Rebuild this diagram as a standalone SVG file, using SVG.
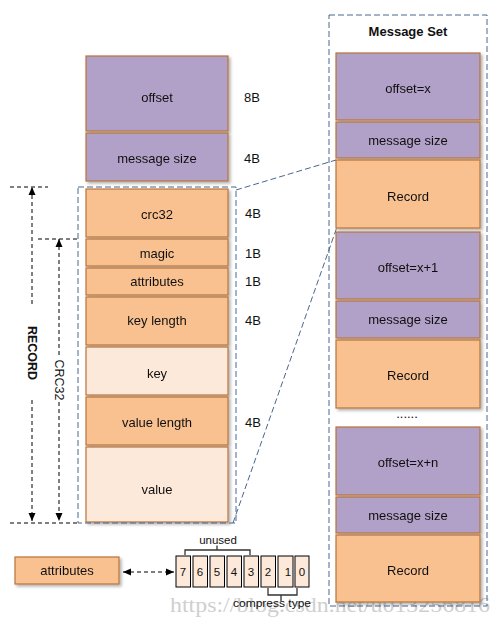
<svg xmlns="http://www.w3.org/2000/svg" width="502" height="626" viewBox="0 0 502 626">
<style>
text{font-family:"Liberation Sans","DejaVu Sans",sans-serif;font-size:13px;fill:#111;}
.c{text-anchor:middle;dominant-baseline:central;}
.p{fill:#B1A0C7;stroke:#B8733A;stroke-width:1.2;}
.o{fill:#F9C090;stroke:#B8733A;stroke-width:1.2;}
.l{fill:#FDE9DA;stroke:#B8733A;stroke-width:1.2;}
.bit{fill:#FDE9DA;stroke:#000;stroke-width:1;}
.bd{fill:none;stroke:#48668F;stroke-width:1;stroke-dasharray:6,3;}
.ad{fill:none;stroke:#000;stroke-width:1;stroke-dasharray:4,3;}
.br{fill:none;stroke:#333;stroke-width:1.3;}
.s{font-size:11.5px;}
</style>
<defs>
<filter id="sh" x="-10%" y="-10%" width="130%" height="130%">
<feDropShadow dx="2" dy="2" stdDeviation="1.5" flood-color="#000" flood-opacity="0.3"/>
</filter>
<marker id="ah" markerWidth="8" markerHeight="8" refX="8" refY="4" orient="auto-start-reverse" markerUnits="userSpaceOnUse">
<path d="M0,0.5 L8,4 L0,7.5 z" fill="#000"/>
</marker>
</defs>

<text x="170" y="612" textLength="320" lengthAdjust="spacingAndGlyphs" style="font-family:'Liberation Serif',serif;font-size:21px;fill:#cfcfcf;">https://blog.csdn.net/u013256816</text>

<g id="left-offset" filter="url(#sh)"><rect class="p" x="86" y="56" width="142" height="75"/><text class="c" x="157" y="97">offset</text></g>
<g id="left-msgsize" filter="url(#sh)"><rect class="p" x="86" y="133" width="142" height="48"/><text class="c" x="157" y="158">message size</text></g>
<g id="crc32" filter="url(#sh)"><rect class="o" x="86" y="189" width="142" height="48"/><text class="c" x="157" y="214">crc32</text></g>
<g id="magic" filter="url(#sh)"><rect class="o" x="86" y="239" width="142" height="27"/><text class="c" x="157" y="253">magic</text></g>
<g id="attributes" filter="url(#sh)"><rect class="o" x="86" y="268" width="142" height="27"/><text class="c" x="157" y="281">attributes</text></g>
<g id="keylength" filter="url(#sh)"><rect class="o" x="86" y="297" width="142" height="48"/><text class="c" x="157" y="320">key length</text></g>
<g id="key" filter="url(#sh)"><rect class="l" x="86" y="347" width="142" height="48"/><text class="c" x="157" y="373">key</text></g>
<g id="valuelength" filter="url(#sh)"><rect class="o" x="86" y="397" width="142" height="48"/><text class="c" x="157" y="422">value length</text></g>
<g id="value" filter="url(#sh)"><rect class="l" x="86" y="447" width="142" height="75"/><text class="c" x="157" y="489">value</text></g>

<g id="sizes">
<text class="c" x="252" y="97">8B</text>
<text class="c" x="252" y="158">4B</text>
<text class="c" x="253" y="213">4B</text>
<text class="c" x="253" y="253">1B</text>
<text class="c" x="253" y="281">1B</text>
<text class="c" x="253" y="320">4B</text>
<text class="c" x="253" y="422">4B</text>
</g>

<g id="record-group"><rect class="bd" x="78" y="187" width="158" height="336"/></g>

<g id="message-set">
<rect class="bd" x="329" y="15" width="158" height="591"/>
<text class="c" x="408" y="31" style="font-weight:bold;">Message Set</text>
</g>
<g id="ms-offset1" filter="url(#sh)"><rect class="p" x="336" y="53" width="144" height="67"/><text class="c" x="408" y="88">offset=x</text></g>
<g id="ms-size1" filter="url(#sh)"><rect class="p" x="336" y="122" width="144" height="36"/><text class="c" x="408" y="140">message size</text></g>
<g id="ms-record1" filter="url(#sh)"><rect class="o" x="336" y="160" width="144" height="68"/><text class="c" x="408" y="196">Record</text></g>
<g id="ms-offset2" filter="url(#sh)"><rect class="p" x="336" y="232" width="144" height="67"/><text class="c" x="408" y="267">offset=x+1</text></g>
<g id="ms-size2" filter="url(#sh)"><rect class="p" x="336" y="301" width="144" height="37"/><text class="c" x="408" y="319">message size</text></g>
<g id="ms-record2" filter="url(#sh)"><rect class="o" x="336" y="340" width="144" height="68"/><text class="c" x="408" y="375">Record</text></g>
<g id="ellipsis"><text class="c" x="407" y="413">......</text></g>
<g id="ms-offsetn" filter="url(#sh)"><rect class="p" x="336" y="427" width="144" height="68"/><text class="c" x="408" y="462">offset=x+n</text></g>
<g id="ms-sizen" filter="url(#sh)"><rect class="p" x="336" y="497" width="144" height="36"/><text class="c" x="408" y="515">message size</text></g>
<g id="ms-recordn" filter="url(#sh)"><rect class="o" x="336" y="535" width="144" height="67"/><text class="c" x="408" y="570">Record</text></g>

<g id="attr-box" filter="url(#sh)"><rect class="o" x="15" y="557" width="104" height="27"/><text class="c" x="67" y="570">attributes</text></g>

<g id="bits">
<rect class="bit" x="176" y="556" width="14.5" height="31"/><text class="c s" x="183" y="572">7</text>
<rect class="bit" x="193" y="556" width="14.5" height="31"/><text class="c s" x="200" y="572">6</text>
<rect class="bit" x="210" y="556" width="14.5" height="31"/><text class="c s" x="217" y="572">5</text>
<rect class="bit" x="227" y="556" width="14.5" height="31"/><text class="c s" x="234" y="572">4</text>
<rect class="bit" x="244" y="556" width="14.5" height="31"/><text class="c s" x="251" y="572">3</text>
<rect class="bit" x="261" y="556" width="14.5" height="31"/><text class="c s" x="268" y="572">2</text>
<rect class="bit" x="278" y="556" width="15" height="31"/><text class="c s" x="288" y="572">1</text>
<rect class="bit" x="295" y="556" width="14" height="31"/><text class="c s" x="302" y="572">0</text>
<path class="br" d="M185,555 V550 H250 V555 M217,550 V545.5"/>
<text class="c s" x="218" y="540">unused</text>
<path class="br" d="M268,588 V595 H297 V588 M281,595 V601"/>
<text class="c s" x="272" y="603" textLength="78" lengthAdjust="spacingAndGlyphs">compress type</text>
</g>

<g id="connectors">
<path class="bd" d="M236,190 L336,160"/>
<path class="bd" d="M233,523 L337,227"/>
<path class="ad" d="M10,187 H48"/>
<path class="ad" d="M10,523 H78"/>
<path class="ad" d="M38,239 H78"/>
<path class="ad" d="M32,304 V187" marker-end="url(#ah)"/>
<path class="ad" d="M32,400 V521" marker-end="url(#ah)"/>
<path class="ad" d="M59,355 V239" marker-end="url(#ah)"/>
<path class="ad" d="M59,402 V521" marker-end="url(#ah)"/>
<path class="ad" d="M123,572 H174" marker-start="url(#ah)" marker-end="url(#ah)"/>
<text class="c" transform="translate(31.5,353) rotate(90)" style="font-weight:bold;font-size:12.5px;">RECORD</text>
<text class="c" transform="translate(58.5,380) rotate(90)" style="font-size:12.5px;">CRC32</text>
</g>
</svg>
